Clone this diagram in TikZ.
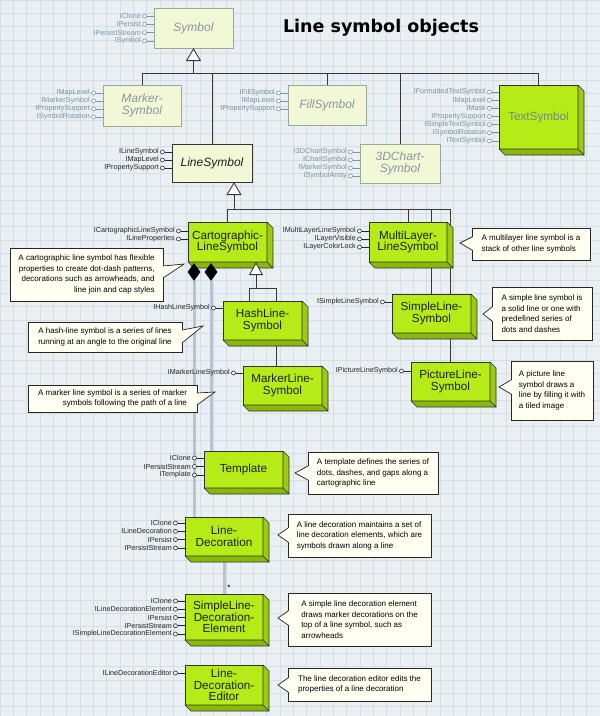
\documentclass[tikz,border=0pt]{standalone}
\usepackage{fontspec}
\setmainfont{Liberation Sans}
\newfontfamily\titlefont{DejaVu Sans}
\usetikzlibrary{arrows.meta,shapes.geometric}
\definecolor{bgc}{HTML}{E9EFF3}
\definecolor{gridc}{HTML}{D5DEE5}
\definecolor{gfront}{HTML}{B5EB17}
\definecolor{gright}{HTML}{9CCC12}
\definecolor{gbottom}{HTML}{88B80C}
\definecolor{lfill}{HTML}{F2F7D5}
\definecolor{lborder}{HTML}{9AA89C}
\definecolor{gtext}{HTML}{8797A3}
\definecolor{tsgray}{HTML}{6F8790}
\definecolor{ifgray}{HTML}{7F939F}
\definecolor{ifdark}{HTML}{262626}
\definecolor{cfill}{HTML}{FFFFF2}
\definecolor{aggline}{HTML}{B3C6D2}
\pgfdeclarelayer{bg}
\pgfsetlayers{bg,main}
\tikzset{
 gbox/.style={draw=black!80, fill=gfront, line width=0.7pt, inner sep=0pt, outer sep=0pt, align=center, font=\fontsize{11.7}{11.5}\selectfont, text=black!88},
 lbox/.style={draw=lborder, fill=lfill, line width=0.7pt, inner sep=0pt, outer sep=0pt, align=center, font=\fontsize{12}{12}\selectfont\itshape, text=gtext},
 conn/.style={draw=black!78, line width=0.9pt},
 inh/.style={conn, -{Triangle[fill=white, length=13pt, width=15pt]}},
 ift/.style={font=\fontsize{7.2}{8}\selectfont, inner sep=0pt},
 ifc/.style={circle, fill=white, inner sep=0pt, minimum size=4pt, line width=0.6pt},
 callout/.style={draw=black!85, fill=cfill, line width=0.7pt, inner xsep=6pt, inner ysep=0pt, outer sep=0pt, font=\fontsize{8}{10.5}\selectfont},
 agg/.style={draw=aggline, line width=3pt},
 dmd/.style={diamond, fill=black, inner sep=0pt, minimum width=13pt, minimum height=18pt},
}
\newcommand\lbx[7][]{\node[lbox,minimum width=#5pt,minimum height=#6pt,#1] (#2) at (#3,#4) {#7};}
\newcommand\gbx[7][]{%
 \node[gbox,minimum width=#5pt,minimum height=#6pt,#1] (#2) at (#3,#4) {#7};
 \filldraw[gright,draw=black!80,line width=0.6pt,line join=round] (#2.north east) -- ++(6,6) -- ++(0,#6) -- (#2.south east) -- cycle;
 \filldraw[gbottom,draw=black!80,line width=0.6pt,line join=round] (#2.south west) -- ++(6,6) -- ++(#5,0) -- (#2.south east) -- cycle;}
\newcommand\ifaces[5]{%
 \path (#1.west); \pgfgetlastxy\qbx\qby \pgfmathsetmacro\qbxn{\qbx}%
 \foreach \t [count=\i] in {#5}{%
   \pgfmathsetmacro\qyy{#2+(\i-1)*#3}%
   \node[ifc, draw=#4] (#1-c\i) at ({\qbxn-9.5},\qyy) {};
   \node[ift, text=#4, anchor=east] (#1-t\i) at ([xshift=-1.2pt]#1-c\i.west) {\t};
   \draw[#4, line width=0.7pt] (#1-c\i.east) -- (#1-c\i.east -| #1.west);
 }}
\newcommand\wedgeL[4]{%
 \path (#1.west); \pgfgetlastxy\qwx\qwy \pgfmathsetmacro\qwxn{\qwx}%
 \fill[cfill] ({\qwxn+0.8},#2) -- (#4) -- ({\qwxn+0.8},#3) -- cycle;
 \draw[black!85, line width=0.7pt] (\qwxn,#2) -- (#4) -- (\qwxn,#3);}
\newcommand\wedgeR[4]{%
 \path (#1.east); \pgfgetlastxy\qwx\qwy \pgfmathsetmacro\qwxn{\qwx}%
 \fill[cfill] ({\qwxn-0.8},#2) -- (#4) -- ({\qwxn-0.8},#3) -- cycle;
 \draw[black!85, line width=0.7pt] (\qwxn,#2) -- (#4) -- (\qwxn,#3);}
\begin{document}
\begin{tikzpicture}[x=1pt,y=-1pt]
\useasboundingbox (0,0) rectangle (600,716);
\node[font=\titlefont\bfseries\fontsize{17.5}{20}\selectfont, anchor=base, inner sep=0pt] (title) at (381,32) {Line symbol objects};
% abstract classes
\lbx{symbol}{193.5}{28}{79}{40}{Symbol}
\lbx{markersym}{142}{105.5}{78}{41}{Marker-\\Symbol}
\lbx{fillsym}{327}{105}{78}{40}{FillSymbol}
\lbx[draw=black!80,text=black!88]{linesym}{212}{163}{80}{38}{LineSymbol}
\lbx{chart3d}{400}{163.5}{80}{39}{3DChart-\\Symbol}
% coclasses
\gbx[text=tsgray]{textsym}{538.5}{117}{79}{64}{TextSymbol}
\gbx{cart}{227.5}{242}{79}{40}{Cartographic-\\LineSymbol}
\gbx{multi}{408}{242}{78}{40}{MultiLayer-\\LineSymbol}
\gbx{simple}{431.5}{313.5}{79}{39}{SimpleLine-\\Symbol}
\gbx{picture}{450.5}{381.5}{79}{39}{PictureLine-\\Symbol}
\gbx{hash}{262.5}{320.5}{79}{39}{HashLine-\\Symbol}
\gbx{markerline}{282.5}{385.5}{79}{39}{MarkerLine-\\Symbol}
\gbx{template}{243.5}{469.5}{79}{37}{Template}
\gbx{linedec}{224}{536.5}{78}{39}{Line-\\Decoration}
\gbx{slde}{224}{617}{78}{46}{SimpleLine-\\Decoration-\\Element}
\gbx{lde}{224}{685}{78}{40}{Line-\\Decoration-\\Editor}
% background, grid and plain connectors
\begin{pgfonlayer}{bg}
\fill[bgc] (0,0) rectangle (600,716);
\foreach \k in {0,...,45} \draw[gridc,line width=0.6pt] ({\k*13.333},0) -- ({\k*13.333},716);
\foreach \k in {0,...,54} \draw[gridc,line width=0.6pt] (0,{\k*13.333}) -- (600,{\k*13.333});
\coordinate (bus1) at (0,73);
\coordinate (bus2) at (0,209);
\coordinate (bus3) at (0,288);
\draw[conn] (markersym.north) -- (markersym.north |- bus1) -- (textsym.north |- bus1) -- (textsym.north);
\draw[conn] (fillsym.north) -- (fillsym.north |- bus1);
\draw[conn] (chart3d.north) -- (chart3d.north |- bus1);
\draw[conn] (linesym.north) -- (linesym.north |- bus1);
\draw[conn] (cart.north) -- (cart.north |- bus2) -- (picture.north |- bus2) -- (picture.north);
\draw[conn] (multi.north) -- (multi.north |- bus2);
\draw[conn] (simple.north) -- (simple.north |- bus2);
\coordinate (hA) at ([xshift=-13.5pt]hash.north);
\coordinate (mA) at ([xshift=-6.5pt]markerline.north);
\draw[conn] (hA) -- (hA |- bus3) -- (mA |- bus3) -- (mA);
\draw[agg] (linedec.south) -- (slde.north);
\end{pgfonlayer}
% inheritance arrows
\draw[inh] (symbol.south |- bus1) -- (symbol.south);
\coordinate (lsT) at ([xshift=22pt]linesym.south);
\draw[inh] (lsT |- bus2) -- (lsT);
\coordinate (cT) at ([xshift=28.5pt]cart.south);
\draw[conn, -{Triangle[fill=white, length=13pt, width=14pt]}] (cT |- bus3) -- (cT);
% aggregation
\node[dmd] (d1) at (194,272) {};
\node[dmd] (d2) at (211,272) {};
\draw[agg] (d1.south) -- (d1.south |- linedec.north);
\draw[agg] (d2.south) -- (d2.south |- template.north);
\node[font=\fontsize{8}{8}\selectfont, inner sep=0pt] (star) at (229,588) {*};
% interfaces
\ifaces{symbol}{16}{8.3}{ifgray}{IClone,IPersist,IPersistStream,ISymbol}
\ifaces{markersym}{93}{8}{ifgray}{IMapLevel,IMarkerSymbol,IPropertySupport,ISymbolRotation}
\ifaces{fillsym}{93}{8}{ifgray}{IFillSymbol,IMapLevel,IPropertySupport}
\ifaces{textsym}{92}{8.15}{ifgray}{IFormattedTextSymbol,IMapLevel,IMask,IPropertySupport,ISimpleTextSymbol,ISymbolRotation,ITextSymbol}
\ifaces{linesym}{152}{8}{ifdark}{ILineSymbol,IMapLevel,IPropertySupport}
\ifaces{chart3d}{152}{8}{ifgray}{I3DChartSymbol,IChartSymbol,IMarkerSymbol,ISymbolArray}
\ifaces{cart}{231}{8}{ifdark}{ICartographicLineSymbol,ILineProperties}
\ifaces{multi}{231}{8}{ifdark}{IMultiLayerLineSymbol,ILayerVisible,ILayerColorLock}
\ifaces{simple}{302}{8}{ifdark}{ISimpleLineSymbol}
\ifaces{picture}{371}{8}{ifdark}{IPictureLineSymbol}
\ifaces{hash}{308}{8}{ifdark}{IHashLineSymbol}
\ifaces{markerline}{373}{8}{ifdark}{IMarkerLineSymbol}
\ifaces{template}{458}{8.5}{ifdark}{IClone,IPersistStream,ITemplate}
\ifaces{linedec}{523}{8.3}{ifdark}{IClone,ILineDecoration,IPersist,IPersistStream}
\ifaces{slde}{601}{8.25}{ifdark}{IClone,ILineDecorationElement,IPersist,IPersistStream,ISimpleLineDecorationElement}
\ifaces{lde}{673}{8}{ifdark}{ILineDecorationEditor}
% callouts
\node[callout, minimum width=153pt, minimum height=53pt, align=right] (c1) at (86.5,274.5) {A cartographic line symbol has flexible\\properties to create dot-dash patterns,\\decorations such as arrowheads, and\\line join and cap styles};
\coordinate (c1tip) at (184,264); \wedgeR{c1}{266}{278}{c1tip}
\node[callout, minimum width=154pt, minimum height=30pt, align=right] (c2) at (105,337) {A hash-line symbol is a series of lines\\running at an angle to the original line};
\coordinate (c2tip) at (203,326); \wedgeR{c2}{330}{343}{c2tip}
\node[callout, minimum width=169pt, minimum height=27pt, align=right] (c3) at (112.5,398.5) {A marker line symbol is a series of marker\\symbols following the path of a line};
\coordinate (c3tip) at (215,392); \wedgeR{c3}{393}{405}{c3tip}
\node[callout, minimum width=118pt, minimum height=32pt, align=left] (c4) at (531,244) {A multilayer line symbol is a\\stack of other line symbols};
\coordinate (c4tip) at (460,243); \wedgeL{c4}{237}{250}{c4tip}
\node[callout, minimum width=100pt, minimum height=53pt, align=left] (c5) at (542,313.5) {A simple line symbol is\\a solid line or one with\\predefined series of\\dots and dashes};
\coordinate (c5tip) at (483,314); \wedgeL{c5}{307}{321}{c5tip}
\node[callout, minimum width=82pt, minimum height=59pt, align=left] (c6) at (552,390.5) {A picture line\\symbol draws a\\line by filling it with\\a tiled image};
\coordinate (c6tip) at (499,387); \wedgeL{c6}{380}{394}{c6tip}
\node[callout, minimum width=130pt, minimum height=42pt, align=left] (c7) at (373,473) {A template defines the series of\\dots, dashes, and gaps along a\\cartographic line};
\coordinate (c7tip) at (295,473); \wedgeL{c7}{466}{480}{c7tip}
\node[callout, minimum width=143pt, minimum height=43pt, align=left] (c8) at (359.5,535.5) {A line decoration maintains a set of\\line decoration elements, which are\\symbols drawn along a line};
\coordinate (c8tip) at (278,535); \wedgeL{c8}{528}{542}{c8tip}
\node[callout, minimum width=143pt, minimum height=53pt, align=left] (c9) at (359.5,619.5) {A simple line decoration element\\draws marker decorations on the\\top of a line symbol, such as\\arrowheads};
\coordinate (c9tip) at (278,618); \wedgeL{c9}{611}{625}{c9tip}
\node[callout, minimum width=143pt, minimum height=33pt, align=left] (c10) at (359.5,684.5) {The line decoration editor edits the\\properties of a line decoration};
\coordinate (c10tip) at (278,685); \wedgeL{c10}{678}{692}{c10tip}
\end{tikzpicture}
\end{document}
